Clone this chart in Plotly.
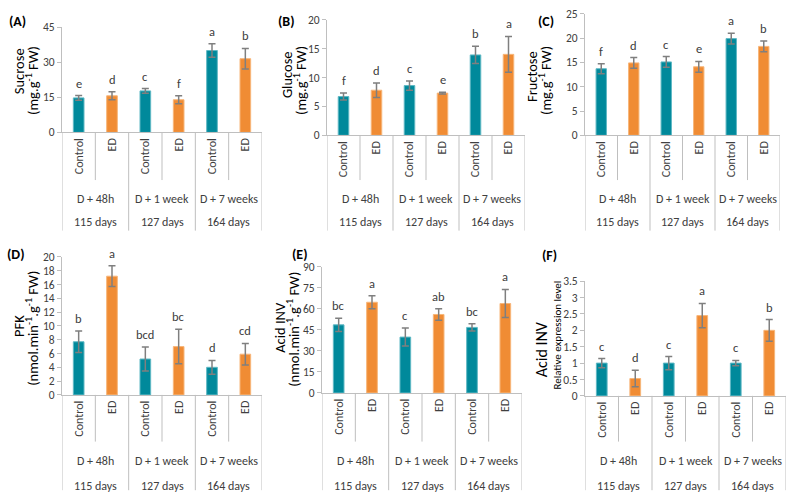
import plotly.graph_objects as go

categories = ["Control", "ED", "Control", "ED", "Control", "ED"]
groups = ["D + 48h", "D + 1 week", "D + 7 weeks"]
ages = ["115 days", "127 days", "164 days"]

sucrose = [14.8, 15.7, 17.8, 14.0, 35.1, 31.6]
sucrose_err = [1.0, 1.7, 1.0, 1.7, 2.9, 4.4]
sucrose_letters = ["e", "d", "c", "f", "a", "b"]

glucose = [6.7, 7.8, 8.6, 7.3, 13.9, 14.0]
glucose_err = [0.6, 1.25, 0.8, 0.15, 1.5, 3.1]
glucose_letters = ["f", "d", "c", "e", "b", "a"]

fructose = [13.7, 14.9, 15.1, 14.1, 19.9, 18.3]
fructose_err = [1.05, 1.1, 1.1, 1.1, 1.1, 1.1]
fructose_letters = ["f", "d", "c", "e", "a", "b"]

pfk = [7.7, 17.2, 5.2, 7.0, 4.0, 5.9]
pfk_err = [1.55, 1.5, 1.75, 2.5, 1.0, 1.55]
pfk_letters = ["b", "a", "bcd", "bc", "d", "cd"]

acid_inv = [48.5, 64.6, 39.8, 55.9, 46.7, 63.7]
acid_inv_err = [4.7, 4.7, 6.4, 4.1, 2.6, 10.0]
acid_inv_letters = ["bc", "a", "c", "ab", "bc", "a"]

expr = [1.0, 0.53, 1.0, 2.45, 1.0, 2.0]
expr_err = [0.14, 0.25, 0.2, 0.37, 0.08, 0.33]
expr_letters = ["c", "d", "c", "a", "c", "b"]

W, H = 789, 504
FONT = "Carlito, Lato, sans-serif"
TEAL = "#00899B"
ORANGE = "#F08C34"
TEAL_EDGE = "#5FB8C4"
ORANGE_EDGE = "#F7B67A"
AXIS = "#BFBFBF"
TXT = "#404040"


def px(x):
    return x / W


def py(y):
    return 1 - y / H


panels = [
    dict(lab="(A)", v=sucrose, e=sucrose_err, l=sucrose_letters, rng=[0, 45], dt=15,
         x=(62, 262), y=(21, 129), inner=178, outer=230, g=198, a=221, labpos=(17, 15),
         title=[("Sucrose", 14.5, 19, 66), ("(mg.g<sup>-1</sup> FW)", 14.5, 32, 75)]),
    dict(lab="(B)", v=glucose, e=glucose_err, l=glucose_letters, rng=[0, 20], dt=5,
         x=(327, 525), y=(13, 132), inner=178, outer=230, g=198, a=221, labpos=(286, 15),
         title=[("Glucose", 14.5, 287, 70), ("(mg.g<sup>-1</sup> FW)", 14.5, 300, 76)]),
    dict(lab="(C)", v=fructose, e=fructose_err, l=fructose_letters, rng=[0, 25], dt=5,
         x=(585, 780), y=(7, 132), inner=178, outer=230, g=198, a=221, labpos=(546, 15),
         title=[("Fructose", 14.5, 532, 72), ("(mg.g<sup>-1</sup> FW)", 14.5, 545, 76)]),
    dict(lab="(D)", v=pfk, e=pfk_err, l=pfk_letters, rng=[0, 20], dt=2,
         x=(62, 262), y=(257, 399), inner=447, outer=497, g=467, a=493, labpos=(16, 255),
         title=[("PFK", 14.5, 19, 328), ("(nmol.min<sup>-1</sup>.g<sup>-1</sup> FW)", 14.5, 32, 330)]),
    dict(lab="(E)", v=acid_inv, e=acid_inv_err, l=acid_inv_letters, rng=[0, 90], dt=15,
         x=(322, 522), y=(267, 397), inner=447, outer=497, g=467, a=493, labpos=(300, 255),
         title=[("Acid INV", 14.5, 280, 330), ("(nmol.min<sup>-1</sup>.g<sup>-1</sup> FW)", 14.5, 293, 332)]),
    dict(lab="(F)", v=expr, e=expr_err, l=expr_letters, rng=[0, 3.5], dt=0.5,
         x=(585, 786), y=(282, 400), inner=447, outer=497, g=467, a=493, labpos=(549, 256),
         title=[("Acid INV", 16, 541, 352), ("Relative expression level", 11, 558, 338)]),
]

fig = go.Figure()
annotations = []
shapes = []
layout_axes = {}

for i, p in enumerate(panels):
    n = i + 1
    xa = "x" if n == 1 else f"x{n}"
    ya = "y" if n == 1 else f"y{n}"
    xkey = "xaxis" if n == 1 else f"xaxis{n}"
    ykey = "yaxis" if n == 1 else f"yaxis{n}"
    colors = [TEAL if c == "Control" else ORANGE for c in categories]
    edges = [TEAL_EDGE if c == "Control" else ORANGE_EDGE for c in categories]
    xs = list(range(len(categories)))
    fig.add_trace(go.Bar(
        x=xs, y=p["v"], xaxis=xa, yaxis=ya, width=0.32,
        marker=dict(color=colors, line=dict(color=edges, width=1)),
        error_y=dict(type="data", array=p["e"], visible=True, color="#7F7F7F",
                     thickness=1.5, width=3.5),
        showlegend=False, hoverinfo="skip",
    ))
    layout_axes[xkey] = dict(
        domain=[px(p["x"][0]), px(p["x"][1])], range=[-0.5, 5.5], anchor=ya,
        tickmode="array", tickvals=xs, ticktext=categories, tickangle=-90,
        ticks="", showline=True, linecolor=AXIS, linewidth=1, showgrid=False,
        zeroline=False, tickfont=dict(family=FONT, size=12, color=TXT), fixedrange=True,
    )
    layout_axes[ykey] = dict(
        domain=[py(p["y"][1]), py(p["y"][0])], range=p["rng"], dtick=p["dt"], anchor=xa,
        showline=True, linecolor=AXIS, linewidth=1, ticks="outside", ticklen=4,
        tickcolor=AXIS, showgrid=False, zeroline=False,
        tickfont=dict(family=FONT, size=11.5, color=TXT), fixedrange=True,
    )
    for xi, (val, er, let) in enumerate(zip(p["v"], p["e"], p["l"])):
        annotations.append(dict(x=xi, y=val + er, xref=xa, yref=ya, text=let,
                                showarrow=False, yanchor="bottom", yshift=3,
                                font=dict(family=FONT, size=12.5, color=TXT)))
    base = py(p["y"][1])
    for k in range(len(categories) + 1):
        xv = k - 0.5
        bottom = py(p["outer"]) if k % 2 == 0 else py(p["inner"])
        shapes.append(dict(type="line", xref=xa, yref="paper", x0=xv, x1=xv,
                           y0=base, y1=bottom, line=dict(color=AXIS, width=1)))
    for gi, (gname, age) in enumerate(zip(groups, ages)):
        annotations.append(dict(x=2 * gi + 0.5, y=py(p["g"]), xref=xa, yref="paper",
                                text=gname, showarrow=False, yanchor="middle",
                                font=dict(family=FONT, size=12, color=TXT)))
        annotations.append(dict(x=2 * gi + 0.5, y=py(p["a"]), xref=xa, yref="paper",
                                text=age, showarrow=False, yanchor="middle",
                                font=dict(family=FONT, size=12, color=TXT)))
    annotations.append(dict(x=px(p["labpos"][0]), y=py(p["labpos"][1]), xref="paper",
                            yref="paper", text=f"<b>{p['lab']}</b>", showarrow=False,
                            xanchor="center", yanchor="middle",
                            font=dict(family=FONT, size=14, color="#000000")))
    for text, size, tx, ty in p["title"]:
        annotations.append(dict(x=px(tx), y=py(ty), xref="paper", yref="paper",
                                text=text, showarrow=False, textangle=-90,
                                xanchor="center", yanchor="middle",
                                font=dict(family=FONT, size=size, color="#000000")))

fig.update_layout(
    width=W, height=H, margin=dict(l=0, r=0, t=0, b=0),
    paper_bgcolor="white", plot_bgcolor="white",
    annotations=annotations, shapes=shapes, **layout_axes,
)

fig.write_html("out.html", config={"displayModeBar": False},
               post_script="document.body.style.margin='0';document.body.style.overflow='hidden';")
